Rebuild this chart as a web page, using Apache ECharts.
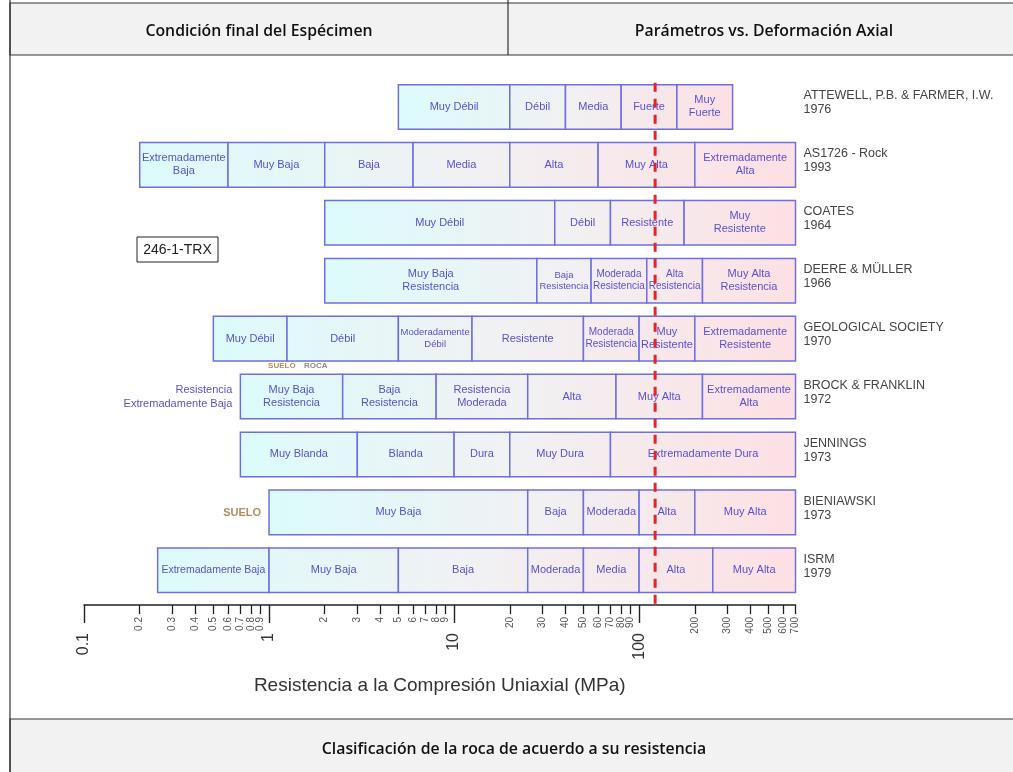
<!DOCTYPE html>
<html>
<head>
<meta charset="utf-8">
<script src="https://cdn.jsdelivr.net/npm/echarts@6.0.0/dist/echarts.min.js"></script>
<style>
  html, body { margin: 0; padding: 0; background: #fff; }
  #chart { width: 1013px; height: 772px; }
</style>
</head>
<body>
<div id="chart"></div>
<script>
// filas (de arriba hacia abajo)
const rowNames = ['ATTEWELL, P.B. & FARMER, I.W.', 'AS1726 - Rock', 'COATES', 'DEERE & MÜLLER',
  'GEOLOGICAL SOCIETY', 'BROCK & FRANKLIN', 'JENNINGS', 'BIENIAWSKI', 'ISRM']
const rowYears = ['1976', '1993', '1964', '1966', '1970', '1972', '1973', '1973', '1979']

// límites de cada clase (MPa) y sus nombres
const attewellBounds = [5, 20, 40, 80, 160, 320]
const attewellLabels = ['Muy Débil', 'Débil', 'Media', 'Fuerte', 'Muy\nFuerte']
const as1726Bounds = [0.2, 0.6, 2, 6, 20, 60, 200, 700]
const as1726Labels = ['Extremadamente\nBaja', 'Muy Baja', 'Baja', 'Media', 'Alta', 'Muy Alta', 'Extremadamente\nAlta']
const coatesBounds = [2, 35, 70, 175, 700]
const coatesLabels = ['Muy Débil', 'Débil', 'Resistente', 'Muy\nResistente']
const deereBounds = [2, 28, 55, 110, 220, 700]
const deereLabels = ['Muy Baja\nResistencia', 'Baja\nResistencia', 'Moderada\nResistencia', 'Alta\nResistencia', 'Muy Alta\nResistencia']
const geolBounds = [0.5, 1.25, 5, 12.5, 50, 100, 200, 700]
const geolLabels = ['Muy Débil', 'Débil', 'Moderadamente\nDébil', 'Resistente', 'Moderada\nResistencia', 'Muy\nResistente', 'Extremadamente\nResistente']
const brockBounds = [0.7, 2.5, 8, 25, 75, 220, 700]
const brockLabels = ['Muy Baja\nResistencia', 'Baja\nResistencia', 'Resistencia\nModerada', 'Alta', 'Muy Alta', 'Extremadamente\nAlta']
const jenningsBounds = [0.7, 3, 10, 20, 70, 700]
const jenningsLabels = ['Muy Blanda', 'Blanda', 'Dura', 'Muy Dura', 'Extremadamente Dura']
const bieniawskiBounds = [1, 25, 50, 100, 200, 700]
const bieniawskiLabels = ['Muy Baja', 'Baja', 'Moderada', 'Alta', 'Muy Alta']
const isrmBounds = [0.25, 1, 5, 25, 50, 100, 250, 700]
const isrmLabels = ['Extremadamente Baja', 'Muy Baja', 'Baja', 'Moderada', 'Media', 'Alta', 'Muy Alta']

// eje
const majorTicks = [0.1, 1, 10, 100]
const minorTicks = [0.2, 0.3, 0.4, 0.5, 0.6, 0.7, 0.8, 0.9, 2, 3, 4, 5, 6, 7, 8, 9,
  20, 30, 40, 50, 60, 70, 80, 90, 200, 300, 400, 500, 600, 700]
const specimenValue = 122

const allBounds = [attewellBounds, as1726Bounds, coatesBounds, deereBounds, geolBounds,
  brockBounds, jenningsBounds, bieniawskiBounds, isrmBounds]
const allLabels = [attewellLabels, as1726Labels, coatesLabels, deereLabels, geolLabels,
  brockLabels, jenningsLabels, bieniawskiLabels, isrmLabels]

const boxData = []
const boxText = []
allBounds.forEach((b, row) => {
  for (let i = 0; i < b.length - 1; i++) {
    boxData.push([b[i], b[i + 1], row, b[0], b[b.length - 1]])
    boxText.push(allLabels[row][i])
  }
})

const FONT = '"Liberation Sans", Arial, sans-serif'
const HEAD_FONT = '600 15.8px "Open Sans", sans-serif'
const boxStroke = '#6f6fe0'
const boxTextColor = '#5a50d2'
const HALF = 0.385

const measureCtx = document.createElement('canvas').getContext('2d')
function fitSize(text, width) {
  let size = 11
  const lines = text.split('\n')
  while (size > 7) {
    measureCtx.font = `${size}px ${FONT}`
    const w = Math.max(...lines.map(l => measureCtx.measureText(l).width))
    if (w <= width - 3) break
    size -= 0.5
  }
  return size
}

function renderBox(params, api) {
  const row = api.value(2)
  const p0 = api.coord([api.value(0), row - HALF])
  const p1 = api.coord([api.value(1), row + HALF])
  const s0 = api.coord([api.value(3), row])[0]
  const s1 = api.coord([api.value(4), row])[0]
  const text = boxText[params.dataIndex]
  const w = p1[0] - p0[0]
  const size = fitSize(text, w)
  const fill = new echarts.graphic.LinearGradient(s0, 0, s1, 0, [
    { offset: 0, color: '#dcfbfb' },
    { offset: 0.5, color: '#f1f1f3' },
    { offset: 1, color: '#fde0e3' },
  ], true)
  return {
    type: 'group',
    children: [
      {
        type: 'rect',
        shape: { x: p0[0], y: p0[1], width: w, height: p1[1] - p0[1] },
        style: { fill, stroke: boxStroke, lineWidth: 1.5 },
      },
      {
        type: 'text',
        style: {
          x: (p0[0] + p1[0]) / 2,
          y: (p0[1] + p1[1]) / 2,
          text,
          align: 'center',
          verticalAlign: 'middle',
          fill: boxTextColor,
          fontSize: size,
          fontFamily: FONT,
          lineHeight: size + 2,
        },
      },
    ],
  }
}

function renderRowName(params, api) {
  const row = api.value(0)
  const p = api.coord([700, row])
  return {
    type: 'text',
    style: {
      x: p[0] + 8,
      y: p[1] - 4,
      text: rowNames[row] + '\n' + rowYears[row],
      align: 'left',
      verticalAlign: 'middle',
      fill: '#444',
      fontSize: 12.5,
      fontFamily: FONT,
      lineHeight: 14,
    },
  }
}

const chart = echarts.init(document.getElementById('chart'))

const logFmt = v => String(+Number(v).toPrecision(3))

chart.setOption({
  animation: false,
  backgroundColor: '#fff',
  grid: { left: 84, right: 217.5, top: 78, bottom: 167 },
  xAxis: [
    {
      type: 'log',
      logBase: 10,
      min: 0.1,
      max: 700,
      axisLine: { show: true, onZero: false, lineStyle: { color: '#222', width: 1.5 } },
      axisTick: { show: true, length: 18, customValues: majorTicks, lineStyle: { color: '#222', width: 1.4 } },
      axisLabel: {
        customValues: majorTicks, rotate: 90, margin: 28, fontSize: 16,
        color: '#333', fontFamily: FONT, formatter: logFmt,
      },
      splitLine: { show: false },
      minorTick: { show: false },
      name: 'Resistencia a la Compresión Uniaxial (MPa)',
      nameLocation: 'middle',
      nameGap: 71,
      nameTextStyle: { fontSize: 19, color: '#333', fontFamily: FONT },
    },
    {
      type: 'log',
      logBase: 10,
      min: 0.1,
      max: 700,
      position: 'bottom',
      axisLine: { show: false, onZero: false },
      axisTick: { show: true, length: 9, customValues: minorTicks, lineStyle: { color: '#222', width: 1.3 } },
      axisLabel: {
        customValues: minorTicks, rotate: 90, margin: 12, fontSize: 10,
        color: '#555', fontFamily: FONT, formatter: logFmt,
      },
      splitLine: { show: false },
    },
  ],
  yAxis: { type: 'value', min: -0.5, max: 8.6, inverse: true, show: false },
  series: [
    {
      type: 'custom',
      renderItem: renderBox,
      data: boxData,
      encode: { x: [0, 1], y: 2 },
      silent: true,
      z: 2,
    },
    {
      type: 'custom',
      renderItem: renderRowName,
      data: rowNames.map((n, i) => [i]),
      encode: { y: 0 },
      silent: true,
      z: 2,
    },
    {
      type: 'line',
      data: [[specimenValue, -0.42], [specimenValue, 8.6]],
      symbol: 'none',
      lineStyle: { color: '#e3262b', width: 3, type: [9, 7] },
      silent: true,
      z: 10,
    },
  ],
})

// anotaciones ancladas a la escala
const toPx = (v, r) => chart.convertToPixel({ xAxisIndex: 0, yAxisIndex: 0 }, [v, r])
const brockStart = toPx(brockBounds[0], 5)
const bieniStart = toPx(bieniawskiBounds[0], 7)
const soilRock = toPx(1, 4.5)

chart.setOption({
  graphic: [
    // marco de la tabla
    { type: 'rect', shape: { x: 10, y: 3, width: 1010, height: 52 }, style: { fill: '#f2f2f2', stroke: '#333', lineWidth: 1.2 }, z: 0 },
    { type: 'rect', shape: { x: 10, y: 719, width: 1010, height: 60 }, style: { fill: '#f2f2f2', stroke: '#333', lineWidth: 1.2 }, z: 0 },
    { type: 'line', shape: { x1: 10, y1: 0, x2: 10, y2: 772 }, style: { stroke: '#333', lineWidth: 1.2 } },
    { type: 'line', shape: { x1: 508, y1: 0, x2: 508, y2: 55 }, style: { stroke: '#333', lineWidth: 1.2 } },
    { type: 'text', style: { x: 259, y: 31, text: 'Condición final del Espécimen', align: 'center', verticalAlign: 'middle', fill: '#111', font: HEAD_FONT } },
    { type: 'text', style: { x: 764, y: 31, text: 'Parámetros vs. Deformación Axial', align: 'center', verticalAlign: 'middle', fill: '#111', font: HEAD_FONT } },
    { type: 'text', style: { x: 514, y: 749, text: 'Clasificación de la roca de acuerdo a su resistencia', align: 'center', verticalAlign: 'middle', fill: '#111', font: HEAD_FONT } },
    // muestra
    { type: 'rect', shape: { x: 137, y: 237, width: 81, height: 25 }, style: { fill: '#fff', stroke: '#222', lineWidth: 1 } },
    { type: 'text', style: { x: 177.5, y: 250, text: '246-1-TRX', align: 'center', verticalAlign: 'middle', fill: '#222', font: `14px ${FONT}` } },
    // notas
    { type: 'text', style: { x: brockStart[0] - 8, y: brockStart[1], text: 'Resistencia\nExtremadamente Baja', align: 'right', verticalAlign: 'middle', fill: boxTextColor, font: `11px ${FONT}`, lineHeight: 14 } },
    { type: 'text', style: { x: bieniStart[0] - 8, y: bieniStart[1] + 1, text: 'SUELO', align: 'right', verticalAlign: 'middle', fill: '#b58d5c', font: `bold 11px ${FONT}` } },
    { type: 'text', style: { x: soilRock[0] - 1, y: soilRock[1] - 2, text: 'SUELO', align: 'left', verticalAlign: 'middle', fill: '#b58d5c', font: `bold 8px ${FONT}` } },
    { type: 'text', style: { x: soilRock[0] + 35, y: soilRock[1] - 2, text: 'ROCA', align: 'left', verticalAlign: 'middle', fill: '#8a8a8a', font: `bold 8px ${FONT}` } },
  ],
})

window.addEventListener('resize', () => chart.resize())
</script>
</body>
</html>
